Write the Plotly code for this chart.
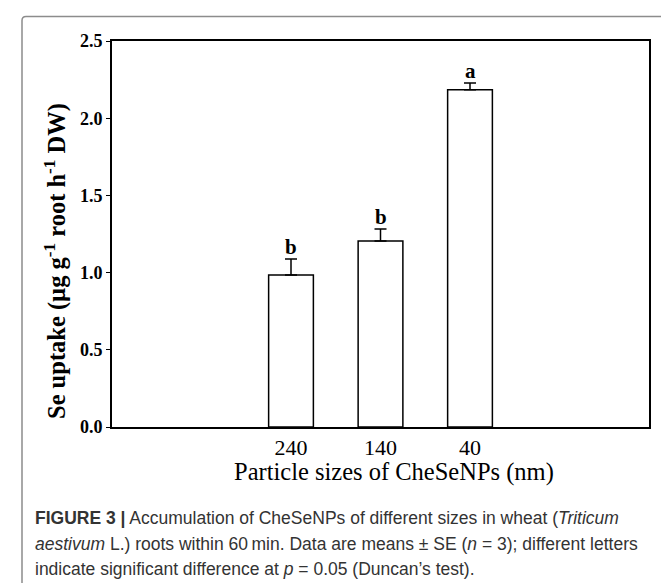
import plotly.graph_objects as go

sizes = ["240", "140", "40"]
uptake = [0.984, 1.205, 2.185]
se = [0.104, 0.078, 0.043]
letters = ["b", "b", "a"]
y_ticks = [0.0, 0.5, 1.0, 1.5, 2.0, 2.5]
y_tick_labels = ["0.0", "0.5", "1.0", "1.5", "2.0", "2.5"]

W, H = 669, 583
L, R, T, B = 104, 28, 33, 164
pw, ph = W - L - R, H - T - B

def px(x):
    return (x - L) / pw

def py(y):
    return (H - B - y) / ph

serif = "Liberation Serif, Times New Roman, serif"

fig = go.Figure()
fig.add_trace(go.Bar(
    x=sizes, y=uptake, width=0.5,
    marker=dict(color="white", line=dict(color="black", width=1.5)),
    error_y=dict(type="data", symmetric=False, array=se, arrayminus=[0] * len(se),
                 color="black", thickness=1.5, width=6),
    showlegend=False,
))

for i, (v, e, l) in enumerate(zip(uptake, se, letters)):
    fig.add_annotation(x=i, y=v + e, xref="x", yref="y", text=f"<b>{l}</b>", showarrow=False,
                       yanchor="bottom", yshift=-2,
                       font=dict(family=serif, size=21, color="black"))

# outer rounded border
x0, x1 = px(14), px(667)
y0, y1 = py(600), py(8.5)
rx, ry = 4 / pw, 4 / ph
path = (f"M {x0+rx},{y1} L {x1-rx},{y1} Q {x1},{y1} {x1},{y1-ry} "
        f"L {x1},{y0+ry} Q {x1},{y0} {x1-rx},{y0} L {x0+rx},{y0} "
        f"Q {x0},{y0} {x0},{y0+ry} L {x0},{y1-ry} Q {x0},{y1} {x0+rx},{y1} Z")
fig.add_shape(type="path", path=path, xref="paper", yref="paper",
              line=dict(color="#8c8c8c", width=1.5), layer="below")

# axis titles
fig.add_annotation(x=px(386), y=py(464), xref="paper", yref="paper",
                   text="Particle sizes of CheSeNPs (nm)", showarrow=False,
                   xanchor="center", yanchor="middle",
                   font=dict(family=serif, size=24.5, color="black"))
fig.add_annotation(x=px(47), y=py(253), xref="paper", yref="paper",
                   text="<b>Se uptake (µg g<sup>-1</sup> root h<sup>-1</sup> DW)</b>",
                   showarrow=False, textangle=-90, xanchor="center", yanchor="middle",
                   font=dict(family=serif, size=24.5, color="black"))

cap_font = dict(family="Liberation Sans, Arial, sans-serif", size=17.5, color="#333333")
cap_lines = [
    "<b>FIGURE 3 |</b> Accumulation of CheSeNPs of different sizes in wheat (<i>Triticum</i>",
    "<i>aestivum</i> L.) roots within 60\u2009min. Data are means \u00b1 SE (<i>n</i> = 3); different letters",
    "indicate significant difference at <i>p</i> = 0.05 (Duncan\u2019s test).",
]
for i, line in enumerate(cap_lines):
    fig.add_annotation(x=px(25), y=py(510 + 25.5 * i), xref="paper", yref="paper",
                       text=line, showarrow=False, xanchor="left", yanchor="middle",
                       font=cap_font)

fig.update_layout(
    width=W, height=H,
    margin=dict(l=L, r=R, t=T, b=B),
    paper_bgcolor="white", plot_bgcolor="white",
    xaxis=dict(
        type="category", range=[-2, 4],
        showline=True, linecolor="black", linewidth=2, mirror=True,
        showgrid=False, ticks="",
        tickfont=dict(family=serif, size=22, color="black"),
    ),
    yaxis=dict(
        range=[0, 2.5], tickvals=y_ticks, ticktext=[f"<b>{t}</b>" for t in y_tick_labels],
        showline=True, linecolor="black", linewidth=2, mirror=True,
        showgrid=False, zeroline=False, ticks="outside", ticklen=4, tickwidth=1.2,
        tickcolor="black",
        tickfont=dict(family=serif, size=18, color="black"),
    ),
)

fig.write_html("out.html")
